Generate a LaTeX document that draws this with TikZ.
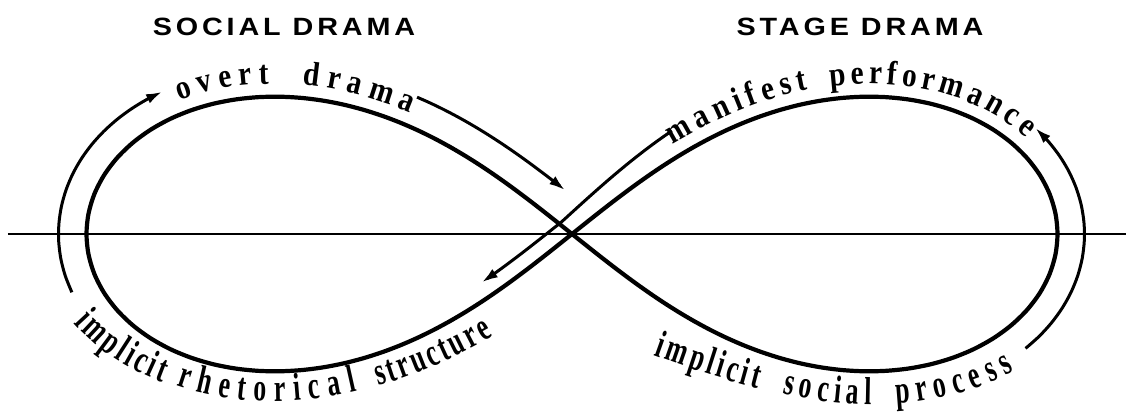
\documentclass[tikz,border=0pt]{standalone}
\usepackage{fontspec}
\usetikzlibrary{arrows.meta,decorations.text}
\newfontfamily\titlesans{Liberation Sans}[LetterSpace=15.5,FakeStretch=1.15]
\newfontfamily\arcserif{Liberation Serif}[FakeStretch=0.66]
\newfontfamily\arcseriftop{Liberation Serif}[FakeStretch=0.86]
\newcommand{\toptext}{\arcseriftop\bfseries\fontsize{34}{34}\selectfont}
\newcommand{\bottext}{\arcserif\bfseries\fontsize{39}{39}\selectfont}

\begin{document}
\begin{tikzpicture}[
  x=1pt, y=1pt,
  % figure eight (lemniscate) and its offset curves, angle in degrees
  declare function={
    lx(\ang)=485.5*cos(\ang)/(1+sin(\ang)*sin(\ang));
    ly(\ang)=0.8*485.5*sin(\ang)*cos(\ang)/(1+sin(\ang)*sin(\ang));
    dn(\ang)=veclen(lx(\ang+1)-lx(\ang-1),ly(\ang+1)-ly(\ang-1));
    ox(\ang,\off)=lx(\ang)-\off*(ly(\ang+1)-ly(\ang-1))/dn(\ang);
    oy(\ang,\off)=ly(\ang)+\off*(lx(\ang+1)-lx(\ang-1))/dn(\ang);
  },
  eight/.style={line width=4.2pt, line join=round},
  axis/.style={line width=2.6pt},
  flow/.style={line width=3pt, -{Latex[length=16pt,width=10pt]}},
  title/.style={font=\titlesans\bfseries\fontsize{25}{30}\selectfont},
  toplbl/.style={decorate, decoration={text along path,
                 text={|\toptext|#1}, text align=fit to path}},
  botlbl/.style={decorate, decoration={text along path,
                 text={|\bottext|#1}, text align=fit to path}},
]
\useasboundingbox (-572,-178) rectangle (554,234);

%% ---- HEADERS ----
\node[title] (social) at (-288,207) {SOCIAL DRAMA};
\node[title] (stage)  at ( 288,207) {STAGE DRAMA};

%% ---- FIGURE EIGHT AND AXIS ----
\draw[eight] plot[domain=0:357, samples=120, smooth cycle] ({lx(\x)},{ly(\x)});
\coordinate (axisW) at (-564,0);
\coordinate (axisE) at (554,0);
\draw[axis] (axisW) -- (axisE);

%% ---- FLOW ARROWS ----
% left side, up
\draw[flow] plot[domain=173:201.5, samples=15, smooth] ({ox(\x,28)},{oy(\x,28)});
% overt drama into the crossing
\draw[flow] plot[domain=235:264, samples=15, smooth] ({ox(\x,30)},{oy(\x,30)});
% from manifest performance through the crossing
\draw[flow] plot[domain=65:108.5, samples=20, smooth]
  ({ox(\x,-16-max(0,90-\x)*0.36)},{oy(\x,-16-max(0,90-\x)*0.36)});
% right side, up
\draw[flow] plot[domain=-15.5:14, samples=15, smooth] ({ox(\x,-27)},{oy(\x,-27)});

%% ---- CURVED LABELS ----
\path[toplbl=overt]       plot[domain=203:214.5, samples=16] ({ox(\x,13)},{oy(\x,13)});
\path[toplbl=drama]       plot[domain=219:235,   samples=18] ({ox(\x,13)},{oy(\x,13)});
\path[toplbl=manifest]    plot[domain=66:43.5,   samples=24] ({ox(\x,-13)},{oy(\x,-13)});
\path[toplbl=performance] plot[domain=40.5:14,   samples=28] ({ox(\x,-13)},{oy(\x,-13)});

\path[botlbl=implicit]    plot[domain=170:158.2, samples=16]
  ({ox(\x,30+0.02*(\x-145)^2)},{oy(\x,30+0.02*(\x-145)^2)});
\path[botlbl=rhetorical]  plot[domain=156.6:134, samples=24]
  ({ox(\x,30+0.006*(\x-142)^2)},{oy(\x,30+0.006*(\x-142)^2)});
\path[botlbl=structure]   plot[domain=131:112, samples=20]
  ({ox(\x,30+0.006*(\x-142)^2)},{oy(\x,30+0.006*(\x-142)^2)});

\path[botlbl=implicit]    plot[domain=-66:-50, samples=17]
  ({ox(\x,-33-0.025*(\x+40)^2)},{oy(\x,-33-0.025*(\x+40)^2)});
\path[botlbl=social]      plot[domain=-46.5:-35, samples=13]
  ({ox(\x,-33-0.012*(\x+40)^2)},{oy(\x,-33-0.012*(\x+40)^2)});
\path[botlbl=process]     plot[domain=-32:-18, samples=15]
  ({ox(\x,-33-0.012*(\x+40)^2)},{oy(\x,-33-0.012*(\x+40)^2)});

\end{tikzpicture}
\end{document}
